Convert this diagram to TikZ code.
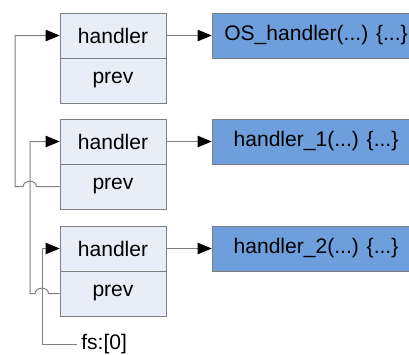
\documentclass[tikz,border=0pt]{standalone}
\usepackage{fontspec}
\setmainfont{Liberation Sans}
\usepackage{tikz}
\usetikzlibrary{arrows.meta}
\usepackage{xcolor}
\definecolor{RecFill}{RGB}{232,238,248}
\definecolor{RecLine}{RGB}{128,128,128}
\definecolor{FunFill}{RGB}{110,159,220}
\tikzstyle{Field}=[rectangle,draw=RecLine,fill=RecFill,minimum width=79.5pt,minimum height=33.75pt,
inner sep=0pt,font=\fontsize{15.8}{18}\selectfont]
\tikzstyle{Func}=[rectangle,draw=RecLine,fill=FunFill,minimum width=156pt,minimum height=33.75pt,
inner sep=0pt,font=\fontsize{15.8}{18}\selectfont]
\tikzstyle{Link}=[RecLine,line width=.75pt,-{Triangle[length=10.5pt,width=8.5pt,black]}]
\tikzstyle{Hop}=[start angle=0,end angle=180,x radius=5pt,y radius=4pt]

\begin{document}
\begin{tikzpicture}[x=.75pt,y=-.75pt]
        \useasboundingbox (0,0) rectangle (409,354);
        \node[Field](h1)at(113,35.5){handler};
        \node[Field](p1)at(113,80.5){prev};
        \node[Field](h2)at(113,141.5){handler};
        \node[Field](p2)at(113,186.5){prev};
        \node[Field](h3)at(113,248.5){handler};
        \node[Field](p3)at(113,293.5){prev};
        \node[Func](f1)at(316,35.5){OS\_handler(...) \{...\}};
        \node[Func](f2)at(316,141.5){handler\_1(...) \{...\}};
        \node[Func](f3)at(316,248.5){handler\_2(...) \{...\}};
        \node[anchor=west,inner sep=3pt,font=\fontsize{15.8}{18}\selectfont](fs)at(77,344.5){fs:[0]};
        \draw[Link](h1)--(f1);
        \draw[Link](h2)--(f2);
        \draw[Link](h3)--(f3);
        \draw[Link](p2.west)--(36.5,186.5)arc[Hop]--(15,186.5)|-(h1.west);
        \draw[Link](p3.west)--(48.5,293.5)arc[Hop]--(30,293.5)|-(h2.west);
        \draw[Link](fs.west)-|(42,248.5)--(h3.west);
    \end{tikzpicture}
\end{document}
